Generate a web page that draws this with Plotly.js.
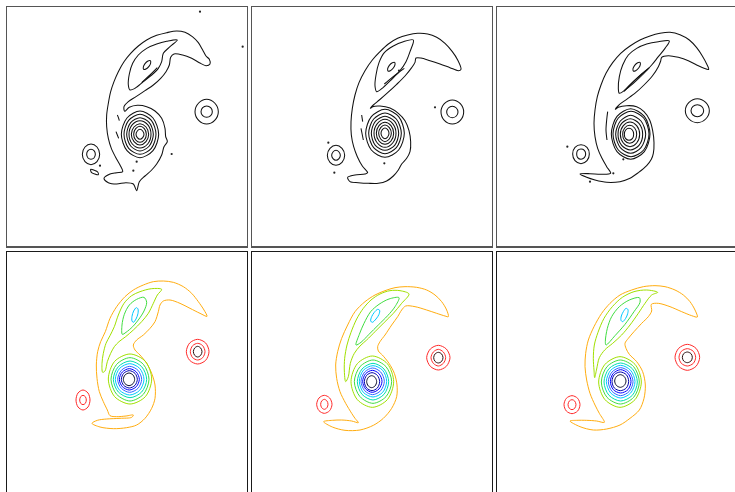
<!DOCTYPE html>
<html><head><meta charset="utf-8">
<script src="https://cdn.plot.ly/plotly-3.0.1.min.js"></script>
<style>html,body{margin:0;padding:0;background:#fff}#plot{width:735px;height:492px}</style>
</head><body><div id="plot"></div>
<script>
// ===== DATA: contour lines (units: domain coords, y downward) =====
// ---- Panel 1 (top-left, measured) ----
const p1_outer_x = [312,330,350,368,360,346,334,325,320,320,325,332,342,355,372,392,415,440,470,500,530,555,577,595,608,618,628,630,618,598,575,548,522,512,508,498,482,460,435,408,385,372,374,388,412,440,465,485,495,497,502,492,485,470,455,435,418,410,400,378,350,325,312];
const p1_outer_y = [535,522,518,515,495,470,445,415,380,345,310,275,245,215,185,160,138,120,106,98,93,97,110,128,150,168,178,192,197,188,175,165,162,172,195,215,235,255,272,290,305,320,334,322,316,320,333,355,385,410,425,440,465,492,510,528,545,572,552,548,552,548,535];
const p1_loop_x = [532,500,470,440,415,398,388,385,390,405,430,455,475,485,490,510,532];
const p1_loop_y = [120,124,132,145,165,190,222,255,270,265,245,225,205,185,160,140,120];
const p1_core_x = [451,452,447,438,431,430,435,444,451];
const p1_core_y = [182,189,199,207,208,201,191,183,182];
const p1_fil_x = [472,450,425];
const p1_fil_y = [203,225,248];
const p1_frag_x = [352,355,358,null,348,352,356];
const p1_frag_y = [345,352,362,null,395,405,415];
const p1_tail_x = [272,283,293,295,285,274,272];
const p1_tail_y = [508,511,516,524,522,517,508];
const p1_rings_x = [
 [476,459,420,381,364,381,420,459,476],[468,454,420,386,372,386,420,454,468],
 [460,448,420,392,380,392,420,448,460],[453,443,420,397,387,397,420,443,453],
 [446,438,420,402,394,402,420,438,446],[439,433,420,407,401,407,420,433,439],
 [432,428,420,412,408,412,420,428,432]];
const p1_rings_y = [
 [403,452,473,452,403,354,333,354,403],[403,445,463,445,403,361,343,361,403],
 [403,438,453,438,403,368,353,368,403],[403,432,444,432,403,374,362,374,403],
 [403,425,435,425,403,381,371,381,403],[403,420,427,420,403,386,379,386,403],
 [403,413,418,413,403,393,388,393,403]];
const p1_sats_x = [[655,644,620,596,585,596,620,644,655],[637,632,620,608,603,608,620,632,637],
 [299,291,273,255,247,255,273,291,299],[286,282,273,264,260,264,273,282,286]];
const p1_sats_y = [[335,361,372,361,335,309,298,309,335],[335,347,352,347,335,323,318,323,335],
 [463,485,494,485,463,441,432,441,463],[463,474,478,474,463,452,448,452,463]];
const p1_dots_x = [600,728,410,515,400,300];
const p1_dots_y = [35,140,485,462,512,497];

// ---- Panel 2 (top-middle, measured) ----
const p2_outer_x = [308,330,360,368,352,337,326,319,318,322,330,342,360,382,405,430,458,488,518,548,575,600,622,638,648,640,615,585,555,528,513,510,500,480,455,428,403,385,376,383,405,435,460,480,492,497,495,485,470,460,445,425,400,370,340,315,308];
const p2_outer_y = [532,525,522,518,498,470,440,405,365,325,285,248,212,180,155,132,115,105,100,102,112,130,155,180,208,212,203,192,182,174,174,187,203,228,253,278,300,315,325,320,318,324,340,362,392,425,455,475,492,510,528,543,550,550,548,545,532];
const p2_loop_x = [505,475,445,418,402,393,390,395,415,440,465,483,495,505];
const p2_loop_y = [120,125,138,158,188,225,258,275,262,238,212,185,155,120];
const p2_core_x = [449,450,445,436,429,428,433,442,449];
const p2_core_y = [187,194,204,212,213,206,196,188,187];
const p2_fil_x = [478,455,430,418];
const p2_fil_y = [205,222,242,252];
const p2_frag_x = [350,353,null,348,352,355];
const p2_frag_y = [345,365,null,385,405,420];
const p2_rings_x = [
 [478,461,420,379,362,379,420,461,478],[469,454,420,386,371,386,420,454,469],
 [461,449,420,391,379,391,420,449,461],[453,443,420,397,387,397,420,443,453],
 [446,438,420,402,394,402,420,438,446],[439,433,420,407,401,407,420,433,439],
 [432,428,420,412,408,412,420,428,432]];
const p2_rings_y = [
 [400,450,472,450,400,350,328,350,400],[400,443,461,443,400,357,339,357,400],
 [400,436,451,436,400,364,349,364,400],[400,429,442,429,400,371,358,371,400],
 [400,423,433,423,400,377,367,377,400],[400,417,425,417,400,383,375,383,400],
 [400,411,416,411,400,389,384,389,400]];
const p2_sats_x = [[656,646,622,598,588,598,622,646,656],[639,634,622,610,605,610,622,634,639],
 [299,291,273,255,247,255,273,291,299],[286,282,273,264,260,264,273,282,286]];
const p2_sats_y = [[336,361,372,361,336,311,300,311,336],[336,348,353,348,336,324,319,324,336],
 [466,487,496,487,466,445,436,445,466],[466,476,481,476,466,456,451,456,466]];
const p2_dots_x = [570,268,250,462,418];
const p2_dots_y = [322,518,428,212,490];

// ---- Panel 3 (top-right, measured) ----
const p3_outer_x = [270,300,332,362,350,336,323,315,312,315,322,333,348,368,392,420,450,480,510,540,570,598,620,637,650,656,642,620,595,565,535,515,512,505,487,462,437,410,388,376,385,410,440,462,479,488,492,490,484,470,445,420,390,350,315,290,270];
const p3_outer_y = [522,521,523,520,500,475,445,410,370,330,290,255,220,188,160,138,120,108,100,97,104,120,143,168,192,208,205,195,182,172,167,172,183,200,228,255,278,298,314,328,322,317,320,335,360,392,428,460,478,497,518,535,545,547,540,532,522];
const p3_loop_x = [538,505,470,440,415,398,388,385,388,405,430,460,485,505,525,538];
const p3_loop_y = [123,125,132,145,165,195,230,265,280,270,250,222,195,170,145,123];
const p3_core_x = [450,451,446,437,430,429,434,443,450];
const p3_core_y = [187,194,204,212,213,206,196,188,187];
const p3_fil_x = [478,455,430,405,null,474,451,426,402];
const p3_fil_y = [203,222,245,270,null,207,226,249,274];
const p3_frag_x = [353,350,348,351];
const p3_frag_y = [335,360,390,420];
const p3_rings_x = [
 [480,463,422,381,364,381,422,463,480],[477,461,423,385,369,385,423,461,477],
 [467,453,422,391,377,391,422,453,467],[458,447,421,395,384,395,421,447,458],
 [449,440,420,400,391,400,420,440,449],[440,434,419,404,398,404,419,434,440],
 [431,427,417,407,403,407,417,427,431]];
const p3_rings_y = [
 [402,455,478,455,402,349,326,349,402],[402,450,470,450,402,354,334,354,402],
 [403,443,460,443,403,363,346,363,403],[403,436,450,436,403,370,356,370,403],
 [403,429,440,429,403,377,366,377,403],[403,422,430,422,403,384,376,384,403],
 [403,416,421,416,403,390,385,390,403]];
const p3_sats_x = [[658,647,622,597,586,597,622,647,658],[641,635,622,609,603,609,622,635,641],
 [298,291,273,255,248,255,273,291,298],[287,283,273,263,260,263,273,283,287]];
const p3_sats_y = [[332,357,368,357,332,307,296,307,332],[332,345,350,345,332,319,314,319,332],
 [462,482,491,482,462,442,434,442,462],[462,473,478,473,462,451,447,451,462]];
const p3_dots_x = [232,300,370,400];
const p3_dots_y = [440,545,520,478];

// ---- Panel 4 (bottom-left, computed) ----
const p4_outer_x = [276,300,340,380,410,435,455,465,465,455,440,420,405,400,410,430,450,465,475,480,490,510,540,570,600,621,612,595,575,550,520,490,460,430,400,375,350,330,316,302,293,289,291,298,310,322,330,350,378,400,395,360,320,292,276];
const p4_outer_y = [535,546,551,548,540,520,490,460,420,385,355,330,315,300,285,270,250,230,200,180,168,165,175,190,205,214,195,170,145,125,112,108,110,120,135,155,185,220,260,290,320,360,400,440,470,495,512,515,513,510,517,520,522,526,535];
const p4_yg_x = [485,455,420,395,372,355,343,330,318,310,306,308,315,322,332,343,357,377,400,425,445,460,472,485];
const p4_yg_y = [133,131,140,152,175,210,245,272,295,325,355,382,378,350,325,305,290,275,255,230,205,175,150,133];
const p4_g_x = [432,410,388,373,366,367,378,398,417,432,440,432];
const p4_g_y = [157,163,180,208,240,268,262,245,222,198,172,157];
const p4_c_x = [414,414,408,400,396,396,401,409,414];
const p4_c_y = [192,205,222,232,228,214,198,188,192];
const p4_rings_x = [
 [455,436,390,344,325,344,390,436,455],[447,430,390,350,333,350,390,430,447],
 [440,425,390,355,340,355,390,425,440],[432,419,389,359,346,359,389,419,432],
 [425,414,389,364,353,364,389,414,425],[418,409,388,367,358,367,388,409,418],
 [412,405,388,371,364,371,388,405,412],[404,399,387,375,370,375,387,399,404]];
const p4_rings_y = [
 [402,455,477,455,402,349,327,349,402],[403,448,468,448,403,358,338,358,403],
 [403,441,458,441,403,365,348,365,403],[403,436,450,436,403,370,356,370,403],
 [403,430,442,430,403,376,364,376,403],[403,425,435,425,403,381,371,381,403],
 [403,421,429,421,403,385,377,385,403],[403,416,422,416,403,390,384,390,403]];
const p4_sats_x = [[627,617,593,569,559,569,593,617,627],[615,608,593,578,571,578,593,608,615],[606,602,593,584,580,584,593,602,606],
 [270,264,249,234,228,234,249,264,270],[259,256,249,242,239,242,249,256,259]];
const p4_sats_y = [[320,346,357,346,320,294,283,294,320],[320,338,345,338,320,302,295,302,320],[320,331,336,331,320,309,304,309,320],
 [465,486,495,486,465,444,435,444,465],[465,475,479,475,465,455,451,455,465]];

// ---- Panel 5 (bottom-middle, computed) ----
const p5_outer_x = [236,262,300,345,385,415,440,455,456,448,432,412,400,398,405,420,440,458,470,482,510,545,575,600,610,605,590,570,545,515,480,450,420,390,360,330,308,290,278,272,275,285,302,320,330,340,320,290,262,236];
const p5_outer_y = [530,546,556,555,541,520,490,455,420,385,355,330,318,305,290,270,240,215,195,183,185,195,205,213,215,195,170,150,135,127,125,128,137,150,170,200,240,280,320,360,400,440,475,505,520,533,528,525,526,530];
const p5_yg_x = [492,465,435,405,378,355,335,318,306,299,298,302,310,316,328,345,365,390,418,445,470,492];
const p5_yg_y = [147,137,137,147,165,190,222,262,300,340,378,410,395,355,325,303,285,260,232,205,175,147];
const p5_g_x = [462,432,402,377,357,343,333,348,372,400,428,450,462];
const p5_g_y = [158,162,178,200,235,268,300,292,268,240,212,185,158];
const p5_c_x = [404,402,393,382,377,380,388,398,404];
const p5_c_y = [196,208,222,232,228,215,202,193,196];
const p5_rings_x = [
 [446,427,382,337,318,337,382,427,446],[440,423,384,345,328,345,384,423,440],
 [431,417,384,351,337,351,384,417,431],[425,413,384,355,343,355,384,413,425],
 [418,407,383,359,348,359,383,407,418],[411,402,382,362,353,362,382,402,411],
 [404,397,381,365,358,365,381,397,404],[395,390,380,370,365,370,380,390,395]];
const p5_rings_y = [
 [410,464,487,464,410,356,333,356,410],[410,455,475,455,410,365,345,365,410],
 [410,448,465,448,410,372,355,372,410],[409,442,456,442,409,376,362,376,409],
 [409,437,449,437,409,381,369,381,409],[409,432,442,432,409,386,376,386,409],
 [410,429,437,429,410,391,383,391,410],[410,423,428,423,410,397,392,397,410]];
const p5_sats_x = [[615,604,580,556,545,556,580,604,615],[602,595,580,565,558,565,580,595,602],[594,590,580,570,566,570,580,590,594],
 [261,254,238,222,215,222,238,254,261],[249,246,238,230,227,230,238,246,249]];
const p5_sats_y = [[338,364,375,364,338,312,301,312,338],[338,355,363,355,338,321,313,321,338],[338,349,354,349,338,327,322,327,338],
 [478,497,505,497,478,459,451,459,478],[478,488,493,488,478,468,463,468,478]];

// ---- Panel 6 (bottom-right, computed) ----
const p6_outer_x = [240,270,310,350,390,420,448,462,466,458,440,418,408,405,415,432,455,475,485,484,505,540,575,605,622,615,600,580,555,525,495,460,425,390,360,335,312,295,287,285,290,300,315,328,343,320,290,260,240];
const p6_outer_y = [528,545,555,552,540,520,495,460,420,380,350,328,310,295,280,260,235,215,198,178,175,185,200,212,216,195,170,150,135,125,122,125,135,150,175,205,245,285,325,365,405,445,480,505,532,528,526,526,528];
const p6_yg_x = [503,470,432,397,367,342,324,313,310,312,314,320,328,345,368,395,420,445,465,485,503];
const p6_yg_y = [142,135,140,157,185,220,262,300,340,375,398,372,338,314,295,270,240,205,175,150,142];
const p6_g_x = [448,418,388,365,352,346,348,375,405,432,450,448];
const p6_g_y = [158,165,185,215,250,290,300,272,238,200,172,158];
const p6_c_x = [414,413,407,398,393,394,400,408,414];
const p6_c_y = [194,206,220,230,226,213,200,190,194];
const p6_rings_x = [
 [454,435,390,345,326,345,390,435,454],[448,431,391,351,334,351,391,431,448],
 [442,427,392,357,342,357,392,427,442],[435,422,392,362,349,362,392,422,435],
 [429,418,392,366,355,366,392,418,429],[423,414,392,370,361,370,392,414,423],
 [416,409,391,373,366,373,391,409,416],[408,403,391,379,374,379,391,403,408]];
const p6_rings_y = [
 [411,464,487,464,411,358,335,358,411],[411,457,477,457,411,365,345,365,411],
 [411,451,468,451,411,371,354,371,411],[410,444,459,444,410,376,361,376,410],
 [410,439,452,439,410,381,368,381,410],[409,434,444,434,409,385,374,385,409],
 [409,429,437,429,409,389,381,389,409],[408,421,427,421,408,395,389,395,408]];
const p6_sats_x = [[629,618,592,566,555,566,592,618,629],[617,610,592,574,567,574,592,610,617],[607,603,592,581,577,581,592,603,607],
 [270,263,246,229,222,229,246,263,270],[258,254,246,238,234,238,246,254,258]];
const p6_sats_y = [[337,364,376,364,337,310,298,310,337],[337,355,363,355,337,319,311,319,337],[337,348,353,348,337,326,321,326,337],
 [479,498,506,498,479,460,452,460,479],[479,490,494,490,479,468,464,468,479]];

// ===== STYLE =====
const ringColors = ['#a0e000','#40dd40','#00dfb0','#00c8ff','#3366ff','#0000ff','#0000aa','#101030'];
const satColors = ['#ff2a2a','#ff2a2a','#2a1010','#ff2a2a','#ff2a2a'];
const COL = {orange:'#ffad10', yg:'#a0e000', g:'#40dd40', c:'#00c8ff'};

function axRef(n){ return n===1 ? '' : String(n); }
function joinLines(list){
  const x=[], y=[];
  list.forEach((p,i)=>{ if(i){x.push(null);y.push(null);} x.push(...p[0]); y.push(...p[1]); });
  return {x, y};
}
function lineTrace(xs, ys, color, width, n){
  return {type:'scatter', mode:'lines', x:xs, y:ys, xaxis:'x'+axRef(n), yaxis:'y'+axRef(n),
    line:{color:color, width:width, shape:'spline', smoothing:0.9}, hoverinfo:'skip', connectgaps:false};
}
function dotTrace(xs, ys, n){
  return {type:'scatter', mode:'markers', x:xs, y:ys, xaxis:'x'+axRef(n), yaxis:'y'+axRef(n),
    marker:{color:'#222', size:2.2}, hoverinfo:'skip'};
}

const traces = [];
// top row: black contours
[
 [p1_outer_x,p1_outer_y,p1_loop_x,p1_loop_y,p1_core_x,p1_core_y,p1_fil_x,p1_fil_y,p1_frag_x,p1_frag_y,p1_rings_x,p1_rings_y,p1_sats_x,p1_sats_y,[[p1_tail_x,p1_tail_y]],p1_dots_x,p1_dots_y],
 [p2_outer_x,p2_outer_y,p2_loop_x,p2_loop_y,p2_core_x,p2_core_y,p2_fil_x,p2_fil_y,p2_frag_x,p2_frag_y,p2_rings_x,p2_rings_y,p2_sats_x,p2_sats_y,[],p2_dots_x,p2_dots_y],
 [p3_outer_x,p3_outer_y,p3_loop_x,p3_loop_y,p3_core_x,p3_core_y,p3_fil_x,p3_fil_y,p3_frag_x,p3_frag_y,p3_rings_x,p3_rings_y,p3_sats_x,p3_sats_y,[],p3_dots_x,p3_dots_y]
].forEach((d,i)=>{
  const n=i+1;
  const parts=[[d[0],d[1]],[d[2],d[3]],[d[4],d[5]],[d[6],d[7]],[d[8],d[9]]];
  d[10].forEach((rx,k)=>parts.push([rx,d[11][k]]));
  d[12].forEach((sx,k)=>parts.push([sx,d[13][k]]));
  d[14].forEach(p=>parts.push(p));
  const j=joinLines(parts);
  traces.push(lineTrace(j.x,j.y,'#111',1.05,n));
  traces.push(dotTrace(d[15],d[16],n));
});
// bottom row: coloured contours
[
 [p4_outer_x,p4_outer_y,p4_yg_x,p4_yg_y,p4_g_x,p4_g_y,p4_c_x,p4_c_y,p4_rings_x,p4_rings_y,p4_sats_x,p4_sats_y],
 [p5_outer_x,p5_outer_y,p5_yg_x,p5_yg_y,p5_g_x,p5_g_y,p5_c_x,p5_c_y,p5_rings_x,p5_rings_y,p5_sats_x,p5_sats_y],
 [p6_outer_x,p6_outer_y,p6_yg_x,p6_yg_y,p6_g_x,p6_g_y,p6_c_x,p6_c_y,p6_rings_x,p6_rings_y,p6_sats_x,p6_sats_y]
].forEach((d,i)=>{
  const n=i+4, w=1.0;
  traces.push(lineTrace(d[0],d[1],COL.orange,w,n));
  traces.push(lineTrace(d[2],d[3],COL.yg,w,n));
  traces.push(lineTrace(d[4],d[5],COL.g,w,n));
  traces.push(lineTrace(d[6],d[7],COL.c,w,n));
  d[8].forEach((rx,k)=>traces.push(lineTrace(rx,d[9][k],ringColors[k],w,n)));
  d[10].forEach((sx,k)=>traces.push(lineTrace(sx,d[11][k],satColors[k],w,n)));
});

// panel frames
const panels = [
 {xd:[7/735,246.5/735], yd:[1-246/492,1-7/492], xr:[21,739.5], yr:[738,21], lc:'#555', my:true},
 {xd:[252/735,491.5/735], yd:[1-246/492,1-7/492], xr:[21,739.5], yr:[738,21], lc:'#555', my:true},
 {xd:[497/735,1], yd:[1-246/492,1-7/492], xr:[21,735], yr:[738,21], lc:'#555', my:false},
 {xd:[7/735,246.5/735], yd:[1-491.5/492,1-252/492], xr:[21,739.5], yr:[739.5,21], lc:'#1a1a1a', my:true},
 {xd:[252/735,491.5/735], yd:[1-491.5/492,1-252/492], xr:[21,739.5], yr:[739.5,21], lc:'#1a1a1a', my:true},
 {xd:[497/735,1], yd:[1-491.5/492,1-252/492], xr:[21,735], yr:[739.5,21], lc:'#1a1a1a', my:false}
];
const layout = {width:735, height:492, margin:{l:0,r:0,t:0,b:0}, showlegend:false,
  paper_bgcolor:'#ffffff', plot_bgcolor:'#ffffff', hovermode:false};
panels.forEach((p,i)=>{
  const n=i+1, r=axRef(n);
  const common = {showgrid:false, zeroline:false, showticklabels:false, ticks:'', fixedrange:true,
    showline:true, linecolor:p.lc, linewidth:1.5};
  layout['xaxis'+r] = Object.assign({}, common, {domain:p.xd, range:p.xr, anchor:'y'+r, mirror:true});
  layout['yaxis'+r] = Object.assign({}, common, {domain:p.yd, range:p.yr, anchor:'x'+r, mirror:p.my});
});
Plotly.newPlot('plot', traces, layout, {staticPlot:true, displayModeBar:false});
</script>
</body></html>
